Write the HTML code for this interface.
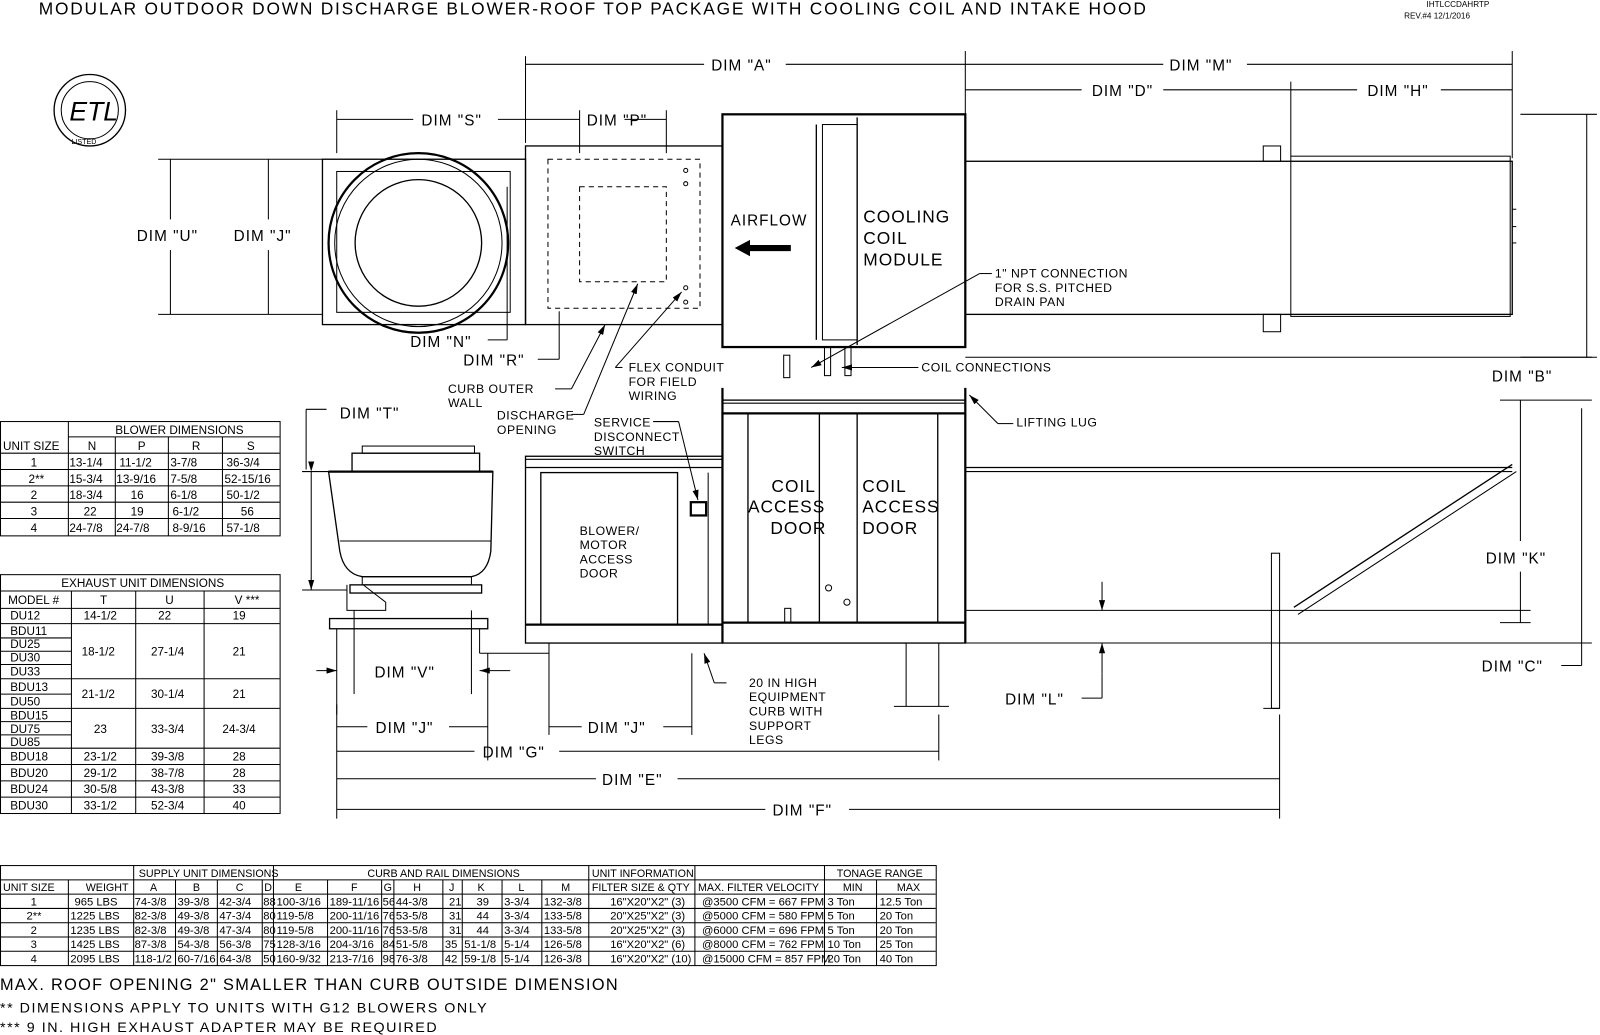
<!DOCTYPE html>
<html><head><meta charset="utf-8"><style>
html,body{margin:0;padding:0;background:#fff}
svg{display:block}
text{font-family:"Liberation Sans",sans-serif;fill:#000}
.l{stroke:#000;stroke-width:1.3;fill:none}
.t{stroke:#000;stroke-width:1;fill:none}
.b{stroke:#000;stroke-width:2.2;fill:none}
.d{stroke:#000;stroke-width:1;fill:none;stroke-dasharray:5 4}
.lab{font-size:15px;letter-spacing:1px}
.sm{font-size:12px;letter-spacing:0.5px}
.tb{font-size:11.5px}
</style></head><body>
<svg width="1600" height="1035" viewBox="0 0 1568 1014" preserveAspectRatio="none" xmlns="http://www.w3.org/2000/svg">
<defs>
<marker id="a" markerWidth="10" markerHeight="6" refX="10" refY="3" orient="auto" markerUnits="userSpaceOnUse"><path d="M0,0 L10,3 L0,6z" fill="#000"/></marker>
</defs>
<text x="38" y="14" style="font-size:17px;letter-spacing:1.75px">MODULAR OUTDOOR DOWN DISCHARGE BLOWER-ROOF TOP PACKAGE WITH COOLING COIL AND INTAKE HOOD</text>
<text x="1398" y="7" style="font-size:8px">IHTLCCDAHRTP</text>
<text x="1376" y="18" style="font-size:8px">REV.#4   12/1/2016</text>

<circle cx="88" cy="108" r="35" class="l"/><circle cx="88" cy="108" r="28" class="t"/>
<text x="68" y="118" style="font-size:26px;font-style:italic">ETL</text>
<text x="70" y="141" style="font-size:7px">LISTED</text>

<g class="t">
<line x1="515" y1="55" x2="515" y2="140"/><line x1="946" y1="50" x2="946" y2="112"/><line x1="1482" y1="50" x2="1482" y2="155"/><line x1="1265" y1="80" x2="1265" y2="153"/>
<line x1="515" y1="63" x2="690" y2="63"/><line x1="770" y1="63" x2="946" y2="63"/>
<line x1="946" y1="63" x2="1140" y2="63"/><line x1="1222" y1="63" x2="1482" y2="63"/>
<line x1="946" y1="88" x2="1060" y2="88"/><line x1="1140" y1="88" x2="1265" y2="88"/>
<line x1="1265" y1="88" x2="1330" y2="88"/><line x1="1412" y1="88" x2="1482" y2="88"/>
<line x1="330" y1="117" x2="405" y2="117"/><line x1="488" y1="117" x2="515" y2="117"/><line x1="330" y1="108" x2="330" y2="150"/>
<line x1="515" y1="117" x2="568" y2="117"/><line x1="612" y1="117" x2="653" y2="117"/><line x1="568" y1="108" x2="568" y2="150"/><line x1="653" y1="108" x2="653" y2="150"/>
<line x1="155" y1="156" x2="316" y2="156"/><line x1="155" y1="308" x2="316" y2="308"/>
<line x1="167" y1="156" x2="167" y2="215"/><line x1="167" y1="245" x2="167" y2="308"/>
<line x1="263" y1="156" x2="263" y2="215"/><line x1="263" y1="245" x2="263" y2="308"/>
<line x1="1490" y1="112" x2="1565" y2="112"/><line x1="1490" y1="350" x2="1565" y2="350"/>
<line x1="1555" y1="112" x2="1555" y2="350"/>
<line x1="497" y1="183" x2="497" y2="276"/><line x1="497" y1="276" x2="497" y2="333"/><line x1="478" y1="333" x2="497" y2="333"/>
<line x1="548" y1="305" x2="548" y2="352"/><line x1="527" y1="352" x2="548" y2="352"/>
</g>
<text class="lab" x="697" y="69">DIM "A"</text><text class="lab" x="1146" y="69">DIM "M"</text>
<text class="lab" x="1070" y="94">DIM "D"</text><text class="lab" x="1340" y="94">DIM "H"</text>
<text class="lab" x="413" y="123">DIM "S"</text><text class="lab" x="575" y="123">DIM "P"</text>
<text class="lab" x="134" y="236">DIM "U"</text><text class="lab" x="229" y="236">DIM "J"</text>
<text class="lab" x="402" y="340">DIM "N"</text><text class="lab" x="454" y="358">DIM "R"</text>
<text class="lab" x="1462" y="374">DIM "B"</text>

<rect x="316" y="156" width="199" height="162" class="l"/>
<rect x="330" y="168" width="170" height="138" class="t"/>
<circle cx="410" cy="238" r="88" class="b"/><circle cx="410" cy="238" r="82" class="t"/><circle cx="410" cy="238" r="62" class="l"/>
<rect x="515" y="143" width="193" height="175" class="l"/>
<rect x="537" y="156" width="149" height="146" class="d"/>
<rect x="568" y="183" width="85" height="93" class="d"/>
<circle cx="672" cy="167" r="2" class="t"/><circle cx="672" cy="180" r="2" class="t"/><circle cx="672" cy="282" r="2" class="t"/><circle cx="672" cy="296" r="2" class="t"/>
<rect x="708" y="112" width="238" height="228" class="b"/>
<line x1="800" y1="122" x2="800" y2="333" class="l"/><line x1="840" y1="115" x2="840" y2="338" class="l"/>
<rect x="806" y="122" width="34" height="211" class="t"/>
<text class="lab" x="716" y="221">AIRFLOW</text>
<path d="M720,243 L735,235 L735,240 L775,240 L775,246 L735,246 L735,251z" fill="#000"/>
<text x="846" y="218" style="font-size:17px;letter-spacing:1px">COOLING</text>
<text x="846" y="239" style="font-size:17px;letter-spacing:1px">COIL</text>
<text x="846" y="260" style="font-size:17px;letter-spacing:1px">MODULE</text>
<rect x="768" y="348" width="6" height="22" class="t"/><rect x="808" y="340" width="6" height="28" class="t"/><rect x="828" y="340" width="6" height="28" class="t"/>
<rect x="946" y="158" width="536" height="150" class="l"/>
<rect x="1265" y="153" width="215" height="157" class="t"/>
<rect x="1238" y="143" width="17" height="15" class="t"/><rect x="1238" y="308" width="17" height="17" class="t"/>
<line x1="1482" y1="205" x2="1486" y2="205" class="t"/><line x1="1482" y1="222" x2="1486" y2="222" class="t"/><line x1="1482" y1="238" x2="1486" y2="238" class="t"/>
<line x1="946" y1="350" x2="1560" y2="350" class="t"/>

<g class="t">
<line x1="544" y1="381" x2="560" y2="381"/><line x1="560" y1="381" x2="593" y2="318" marker-end="url(#a)"/>
<line x1="560" y1="406" x2="572" y2="406"/><line x1="572" y1="406" x2="625" y2="278" marker-end="url(#a)"/>
<line x1="610" y1="360" x2="603" y2="360"/><line x1="603" y1="360" x2="668" y2="286" marker-end="url(#a)"/>
<line x1="972" y1="268" x2="960" y2="268"/><line x1="960" y1="268" x2="795" y2="360" marker-end="url(#a)"/>
<line x1="900" y1="360" x2="825" y2="360" marker-end="url(#a)"/>
<line x1="993" y1="415" x2="978" y2="415"/><line x1="978" y1="415" x2="950" y2="387" marker-end="url(#a)"/>
<line x1="640" y1="413" x2="665" y2="413"/><line x1="665" y1="413" x2="684" y2="490" marker-end="url(#a)"/>
</g>
<text class="sm" x="439" y="385">CURB OUTER</text><text class="sm" x="439" y="399">WALL</text>
<text class="sm" x="487" y="411">DISCHARGE</text><text class="sm" x="487" y="425">OPENING</text>
<text class="sm" x="616" y="364">FLEX CONDUIT</text><text class="sm" x="616" y="378">FOR FIELD</text><text class="sm" x="616" y="392">WIRING</text>
<text class="sm" x="975" y="272">1" NPT CONNECTION</text><text class="sm" x="975" y="286">FOR S.S. PITCHED</text><text class="sm" x="975" y="300">DRAIN PAN</text>
<text class="sm" x="903" y="364">COIL CONNECTIONS</text>
<text class="sm" x="996" y="418">LIFTING LUG</text>
<text class="sm" x="582" y="418">SERVICE</text><text class="sm" x="582" y="432">DISCONNECT</text><text class="sm" x="582" y="446">SWITCH</text>

<rect x="355" y="437" width="110" height="7" class="t"/><rect x="345" y="444" width="125" height="18" class="l"/>
<path d="M322,462 L483,462 L481,540 Q478,562 462,565 L355,565 Q337,562 333,540z" class="l"/>
<line x1="322" y1="462" x2="483" y2="462" class="b"/>
<line x1="333" y1="530" x2="481" y2="530" class="t"/>
<rect x="355" y="565" width="107" height="8" class="t"/>
<rect x="343" y="573" width="129" height="8" class="l"/>
<path d="M340,573 L340,598 L378,598 L378,590 L356,573" class="t"/>
<rect x="323" y="606" width="155" height="10" class="l"/>
<line x1="330" y1="616" x2="330" y2="700" class="t"/><line x1="470" y1="616" x2="470" y2="640" class="t"/>
<path d="M470,640 L538,640 L538,630" class="t"/>
<line x1="347" y1="598" x2="347" y2="680" class="t"/><line x1="462" y1="598" x2="462" y2="680" class="t"/>
<g class="t">
<line x1="300" y1="401" x2="320" y2="401"/><line x1="300" y1="401" x2="300" y2="460"/>
<line x1="296" y1="462" x2="322" y2="462"/><line x1="296" y1="578" x2="340" y2="578"/>
<line x1="305" y1="462" x2="305" y2="578" marker-start="url(#a)" marker-end="url(#a)"/>
<line x1="310" y1="657" x2="330" y2="657" marker-end="url(#a)"/><line x1="500" y1="657" x2="470" y2="657" marker-end="url(#a)"/>
</g>
<text class="lab" x="333" y="410">DIM "T"</text>
<text class="lab" x="367" y="664">DIM "V"</text>

<rect x="515" y="447" width="193" height="183" class="l"/>
<line x1="515" y1="450" x2="708" y2="450" class="t"/><line x1="515" y1="458" x2="708" y2="458" class="l"/>
<rect x="530" y="463" width="134" height="149" class="l"/>
<line x1="694" y1="463" x2="694" y2="612" class="t"/>
<line x1="515" y1="612" x2="708" y2="612" class="b"/>
<rect x="677" y="492" width="15" height="13" class="b"/>
<text class="sm" x="568" y="524">BLOWER/</text><text class="sm" x="568" y="538">MOTOR</text><text class="sm" x="568" y="552">ACCESS</text><text class="sm" x="568" y="566">DOOR</text>

<rect x="708" y="392" width="238" height="238" class="l"/>
<line x1="708" y1="395" x2="946" y2="395" class="t"/><line x1="708" y1="405" x2="946" y2="405" class="b"/>
<line x1="733" y1="405" x2="733" y2="610" class="l"/><line x1="803" y1="405" x2="803" y2="610" class="l"/>
<line x1="840" y1="405" x2="840" y2="610" class="l"/><line x1="919" y1="405" x2="919" y2="610" class="l"/>
<line x1="708" y1="610" x2="946" y2="610" class="b"/>
<line x1="708" y1="380" x2="708" y2="630" class="b"/><line x1="946" y1="380" x2="946" y2="630" class="b"/>
<circle cx="812" cy="576" r="3" class="t"/><circle cx="830" cy="590" r="3" class="t"/>
<rect x="769" y="596" width="6" height="14" class="t"/>
<text x="756" y="482" style="font-size:17px;letter-spacing:1px">COIL</text><text x="733" y="502" style="font-size:17px;letter-spacing:1px">ACCESS</text><text x="755" y="523" style="font-size:17px;letter-spacing:1px">DOOR</text>
<text x="845" y="482" style="font-size:17px;letter-spacing:1px">COIL</text><text x="845" y="502" style="font-size:17px;letter-spacing:1px">ACCESS</text><text x="845" y="523" style="font-size:17px;letter-spacing:1px">DOOR</text>
<line x1="888" y1="630" x2="888" y2="692" class="t"/><line x1="920" y1="630" x2="920" y2="692" class="t"/><line x1="876" y1="692" x2="930" y2="692" class="t"/>

<line x1="946" y1="458" x2="1482" y2="458" class="l"/><line x1="946" y1="462" x2="1482" y2="462" class="t"/>
<line x1="1268" y1="595" x2="1482" y2="455" class="l"/><line x1="1272" y1="602" x2="1486" y2="462" class="t"/>
<line x1="946" y1="598" x2="1500" y2="598" class="t"/><line x1="946" y1="630" x2="1560" y2="630" class="t"/>
<rect x="1246" y="542" width="8" height="152" class="t"/><line x1="1238" y1="694" x2="1254" y2="694" class="t"/>
<g class="t">
<line x1="1080" y1="570" x2="1080" y2="598" marker-end="url(#a)"/><line x1="1080" y1="660" x2="1080" y2="630" marker-end="url(#a)"/><line x1="1060" y1="684" x2="1080" y2="684"/><line x1="1080" y1="684" x2="1080" y2="660"/>
<line x1="1470" y1="392" x2="1560" y2="392"/><line x1="1490" y1="392" x2="1490" y2="530"/><line x1="1490" y1="560" x2="1490" y2="610"/><line x1="1470" y1="610" x2="1500" y2="610"/>
<line x1="1550" y1="400" x2="1550" y2="630"/><line x1="1550" y1="630" x2="1550" y2="652"/><line x1="1530" y1="652" x2="1550" y2="652"/>
<line x1="712" y1="669" x2="700" y2="669"/><line x1="700" y1="669" x2="690" y2="640" marker-end="url(#a)"/>
</g>
<text class="lab" x="1456" y="552">DIM "K"</text>
<text class="lab" x="1452" y="658">DIM "C"</text>
<text class="lab" x="985" y="690">DIM "L"</text>
<text class="sm" x="734" y="673">20 IN HIGH</text><text class="sm" x="734" y="687">EQUIPMENT</text><text class="sm" x="734" y="701">CURB WITH</text><text class="sm" x="734" y="715">SUPPORT</text><text class="sm" x="734" y="729">LEGS</text>

<g class="t">
<line x1="330" y1="690" x2="330" y2="802"/><line x1="478" y1="640" x2="478" y2="745"/><line x1="538" y1="640" x2="538" y2="720"/><line x1="678" y1="640" x2="678" y2="720"/>
<line x1="920" y1="700" x2="920" y2="745"/><line x1="1254" y1="700" x2="1254" y2="802"/>
<line x1="330" y1="712" x2="360" y2="712"/><line x1="440" y1="712" x2="478" y2="712"/>
<line x1="538" y1="712" x2="570" y2="712"/><line x1="650" y1="712" x2="678" y2="712"/>
<line x1="330" y1="736" x2="465" y2="736"/><line x1="548" y1="736" x2="920" y2="736"/>
<line x1="330" y1="763" x2="584" y2="763"/><line x1="664" y1="763" x2="1254" y2="763"/>
<line x1="330" y1="793" x2="750" y2="793"/><line x1="832" y1="793" x2="1254" y2="793"/>
</g>
<text class="lab" x="368" y="718">DIM "J"</text><text class="lab" x="576" y="718">DIM "J"</text>
<text class="lab" x="473" y="742">DIM "G"</text><text class="lab" x="590" y="769">DIM "E"</text><text class="lab" x="757" y="799">DIM "F"</text>

<g class="t">
<rect x="0.5" y="413" width="274" height="112"/>
<line x1="67" y1="413" x2="67" y2="525"/><line x1="67" y1="428" x2="274" y2="428"/>
<line x1="0" y1="444" x2="274" y2="444"/><line x1="0" y1="460" x2="274" y2="460"/><line x1="0" y1="476" x2="274" y2="476"/><line x1="0" y1="492" x2="274" y2="492"/><line x1="0" y1="508" x2="274" y2="508"/>
<line x1="113" y1="428" x2="113" y2="525"/><line x1="165" y1="428" x2="165" y2="525"/><line x1="218" y1="428" x2="218" y2="525"/>
</g>
<g class="tb">
<text x="113" y="425">BLOWER DIMENSIONS</text>
<text x="3" y="441">UNIT SIZE</text><text x="86" y="441">N</text><text x="135" y="441">P</text><text x="188" y="441">R</text><text x="242" y="441">S</text>
<text x="30" y="457">1</text><text x="68" y="457">13-1/4</text><text x="117" y="457">11-1/2</text><text x="167" y="457">3-7/8</text><text x="222" y="457">36-3/4</text>
<text x="28" y="473">2**</text><text x="68" y="473">15-3/4</text><text x="114" y="473">13-9/16</text><text x="167" y="473">7-5/8</text><text x="220" y="473">52-15/16</text>
<text x="30" y="489">2</text><text x="68" y="489">18-3/4</text><text x="128" y="489">16</text><text x="167" y="489">6-1/8</text><text x="222" y="489">50-1/2</text>
<text x="30" y="505">3</text><text x="82" y="505">22</text><text x="128" y="505">19</text><text x="169" y="505">6-1/2</text><text x="236" y="505">56</text>
<text x="30" y="521">4</text><text x="68" y="521">24-7/8</text><text x="114" y="521">24-7/8</text><text x="169" y="521">8-9/16</text><text x="222" y="521">57-1/8</text>
</g>

<g class="t">
<rect x="0.5" y="563" width="274" height="234"/>
<line x1="0" y1="579" x2="274" y2="579"/><line x1="0" y1="596" x2="274" y2="596"/><line x1="0" y1="611" x2="274" y2="611"/>
<line x1="0" y1="625" x2="70" y2="625"/><line x1="0" y1="638" x2="70" y2="638"/><line x1="0" y1="651" x2="70" y2="651"/>
<line x1="0" y1="665" x2="274" y2="665"/><line x1="0" y1="680" x2="70" y2="680"/><line x1="0" y1="694" x2="274" y2="694"/>
<line x1="0" y1="707" x2="70" y2="707"/><line x1="0" y1="720" x2="70" y2="720"/><line x1="0" y1="733" x2="274" y2="733"/>
<line x1="0" y1="749" x2="274" y2="749"/><line x1="0" y1="765" x2="274" y2="765"/><line x1="0" y1="781" x2="274" y2="781"/>
<line x1="70" y1="579" x2="70" y2="797"/><line x1="133" y1="579" x2="133" y2="797"/><line x1="200" y1="579" x2="200" y2="797"/>
</g>
<g class="tb">
<text x="60" y="575">EXHAUST UNIT DIMENSIONS</text>
<text x="8" y="592">MODEL #</text><text x="98" y="592">T</text><text x="162" y="592">U</text><text x="230" y="592">V ***</text>
<text x="10" y="607">DU12</text><text x="82" y="607">14-1/2</text><text x="155" y="607">22</text><text x="228" y="607">19</text>
<text x="10" y="622">BDU11</text><text x="10" y="635">DU25</text><text x="10" y="648">DU30</text><text x="10" y="662">DU33</text>
<text x="80" y="642">18-1/2</text><text x="148" y="642">27-1/4</text><text x="228" y="642">21</text>
<text x="10" y="677">BDU13</text><text x="10" y="691">DU50</text><text x="80" y="684">21-1/2</text><text x="148" y="684">30-1/4</text><text x="228" y="684">21</text>
<text x="10" y="705">BDU15</text><text x="10" y="718">DU75</text><text x="10" y="731">DU85</text>
<text x="92" y="718">23</text><text x="148" y="718">33-3/4</text><text x="218" y="718">24-3/4</text>
<text x="10" y="745">BDU18</text><text x="82" y="745">23-1/2</text><text x="148" y="745">39-3/8</text><text x="228" y="745">28</text>
<text x="10" y="761">BDU20</text><text x="82" y="761">29-1/2</text><text x="148" y="761">38-7/8</text><text x="228" y="761">28</text>
<text x="10" y="777">BDU24</text><text x="82" y="777">30-5/8</text><text x="148" y="777">43-3/8</text><text x="228" y="777">33</text>
<text x="10" y="793">BDU30</text><text x="82" y="793">33-1/2</text><text x="148" y="793">52-3/4</text><text x="228" y="793">40</text>
</g>

<g class="t">
<rect x="0.5" y="848" width="917" height="98"/>
<line x1="0" y1="862" x2="917" y2="862"/><line x1="0" y1="876" x2="917" y2="876"/><line x1="0" y1="890" x2="917" y2="890"/><line x1="0" y1="904" x2="917" y2="904"/><line x1="0" y1="918" x2="917" y2="918"/><line x1="0" y1="932" x2="917" y2="932"/>
<line x1="67" y1="862" x2="67" y2="946"/>
<line x1="131" y1="848" x2="131" y2="946"/><line x1="172" y1="862" x2="172" y2="946"/><line x1="213" y1="862" x2="213" y2="946"/><line x1="257" y1="862" x2="257" y2="946"/>
<line x1="268" y1="848" x2="268" y2="946"/><line x1="321" y1="862" x2="321" y2="946"/><line x1="374" y1="862" x2="374" y2="946"/><line x1="386" y1="862" x2="386" y2="946"/>
<line x1="434" y1="862" x2="434" y2="946"/><line x1="453" y1="862" x2="453" y2="946"/><line x1="492" y1="862" x2="492" y2="946"/><line x1="531" y1="862" x2="531" y2="946"/>
<line x1="577" y1="848" x2="577" y2="946"/><line x1="681" y1="848" x2="681" y2="946"/><line x1="808" y1="848" x2="808" y2="946"/><line x1="859" y1="862" x2="859" y2="946"/>
</g>
<g class="tb" style="font-size:10.5px">
<text x="136" y="859">SUPPLY UNIT DIMENSIONS</text><text x="360" y="859">CURB AND RAIL DIMENSIONS</text><text x="580" y="859">UNIT INFORMATION</text><text x="820" y="859">TONAGE RANGE</text>
<text x="3" y="873">UNIT SIZE</text><text x="84" y="873">WEIGHT</text><text x="147" y="873">A</text><text x="189" y="873">B</text><text x="231" y="873">C</text><text x="259" y="873">D</text><text x="289" y="873">E</text><text x="344" y="873">F</text><text x="376" y="873">G</text><text x="405" y="873">H</text><text x="440" y="873">J</text><text x="468" y="873">K</text><text x="508" y="873">L</text><text x="550" y="873">M</text>
<text x="580" y="873">FILTER SIZE &amp; QTY</text><text x="684" y="873">MAX. FILTER VELOCITY</text><text x="826" y="873">MIN</text><text x="879" y="873">MAX</text>
</g>
<g class="tb" style="font-size:11px">
<text x="30" y="887">1</text><text x="73" y="887">965 LBS</text><text x="132" y="887">74-3/8</text><text x="174" y="887">39-3/8</text><text x="215" y="887">42-3/4</text><text x="258" y="887">88</text><text x="271" y="887">100-3/16</text><text x="323" y="887">189-11/16</text><text x="375" y="887">56</text><text x="388" y="887">44-3/8</text><text x="440" y="887">21</text><text x="467" y="887">39</text><text x="494" y="887">3-3/4</text><text x="533" y="887">132-3/8</text><text x="598" y="887">16"X20"X2" (3)</text><text x="688" y="887">@3500 CFM = 667 FPM</text><text x="811" y="887">3 Ton</text><text x="862" y="887">12.5 Ton</text>
<text x="26" y="901">2**</text><text x="69" y="901">1225 LBS</text><text x="132" y="901">82-3/8</text><text x="174" y="901">49-3/8</text><text x="215" y="901">47-3/4</text><text x="258" y="901">80</text><text x="271" y="901">119-5/8</text><text x="323" y="901">200-11/16</text><text x="375" y="901">76</text><text x="388" y="901">53-5/8</text><text x="440" y="901">31</text><text x="467" y="901">44</text><text x="494" y="901">3-3/4</text><text x="533" y="901">133-5/8</text><text x="598" y="901">20"X25"X2" (3)</text><text x="688" y="901">@5000 CFM = 580 FPM</text><text x="811" y="901">5 Ton</text><text x="862" y="901">20 Ton</text>
<text x="30" y="915">2</text><text x="69" y="915">1235 LBS</text><text x="132" y="915">82-3/8</text><text x="174" y="915">49-3/8</text><text x="215" y="915">47-3/4</text><text x="258" y="915">80</text><text x="271" y="915">119-5/8</text><text x="323" y="915">200-11/16</text><text x="375" y="915">76</text><text x="388" y="915">53-5/8</text><text x="440" y="915">31</text><text x="467" y="915">44</text><text x="494" y="915">3-3/4</text><text x="533" y="915">133-5/8</text><text x="598" y="915">20"X25"X2" (3)</text><text x="688" y="915">@6000 CFM = 696 FPM</text><text x="811" y="915">5 Ton</text><text x="862" y="915">20 Ton</text>
<text x="30" y="929">3</text><text x="69" y="929">1425 LBS</text><text x="132" y="929">87-3/8</text><text x="174" y="929">54-3/8</text><text x="215" y="929">56-3/8</text><text x="258" y="929">75</text><text x="271" y="929">128-3/16</text><text x="323" y="929">204-3/16</text><text x="375" y="929">84</text><text x="388" y="929">51-5/8</text><text x="436" y="929">35</text><text x="455" y="929">51-1/8</text><text x="494" y="929">5-1/4</text><text x="533" y="929">126-5/8</text><text x="598" y="929">16"X20"X2" (6)</text><text x="688" y="929">@8000 CFM = 762 FPM</text><text x="811" y="929">10 Ton</text><text x="862" y="929">25 Ton</text>
<text x="30" y="943">4</text><text x="69" y="943">2095 LBS</text><text x="132" y="943">118-1/2</text><text x="174" y="943">60-7/16</text><text x="215" y="943">64-3/8</text><text x="258" y="943">50</text><text x="271" y="943">160-9/32</text><text x="323" y="943">213-7/16</text><text x="375" y="943">98</text><text x="388" y="943">76-3/8</text><text x="436" y="943">42</text><text x="455" y="943">59-1/8</text><text x="494" y="943">5-1/4</text><text x="533" y="943">126-3/8</text><text x="598" y="943">16"X20"X2" (10)</text><text x="688" y="943">@15000 CFM = 857 FPM</text><text x="811" y="943">20 Ton</text><text x="862" y="943">40 Ton</text>
</g>
<text x="0" y="970" style="font-size:16px;letter-spacing:1.3px">MAX. ROOF OPENING 2" SMALLER THAN CURB OUTSIDE DIMENSION</text>
<text x="0" y="992" style="font-size:14px;letter-spacing:1.5px">** DIMENSIONS APPLY TO UNITS WITH G12 BLOWERS ONLY</text>
<text x="0" y="1011" style="font-size:14px;letter-spacing:1.5px">*** 9 IN. HIGH EXHAUST ADAPTER MAY BE REQUIRED</text>
</svg>
</body></html>
